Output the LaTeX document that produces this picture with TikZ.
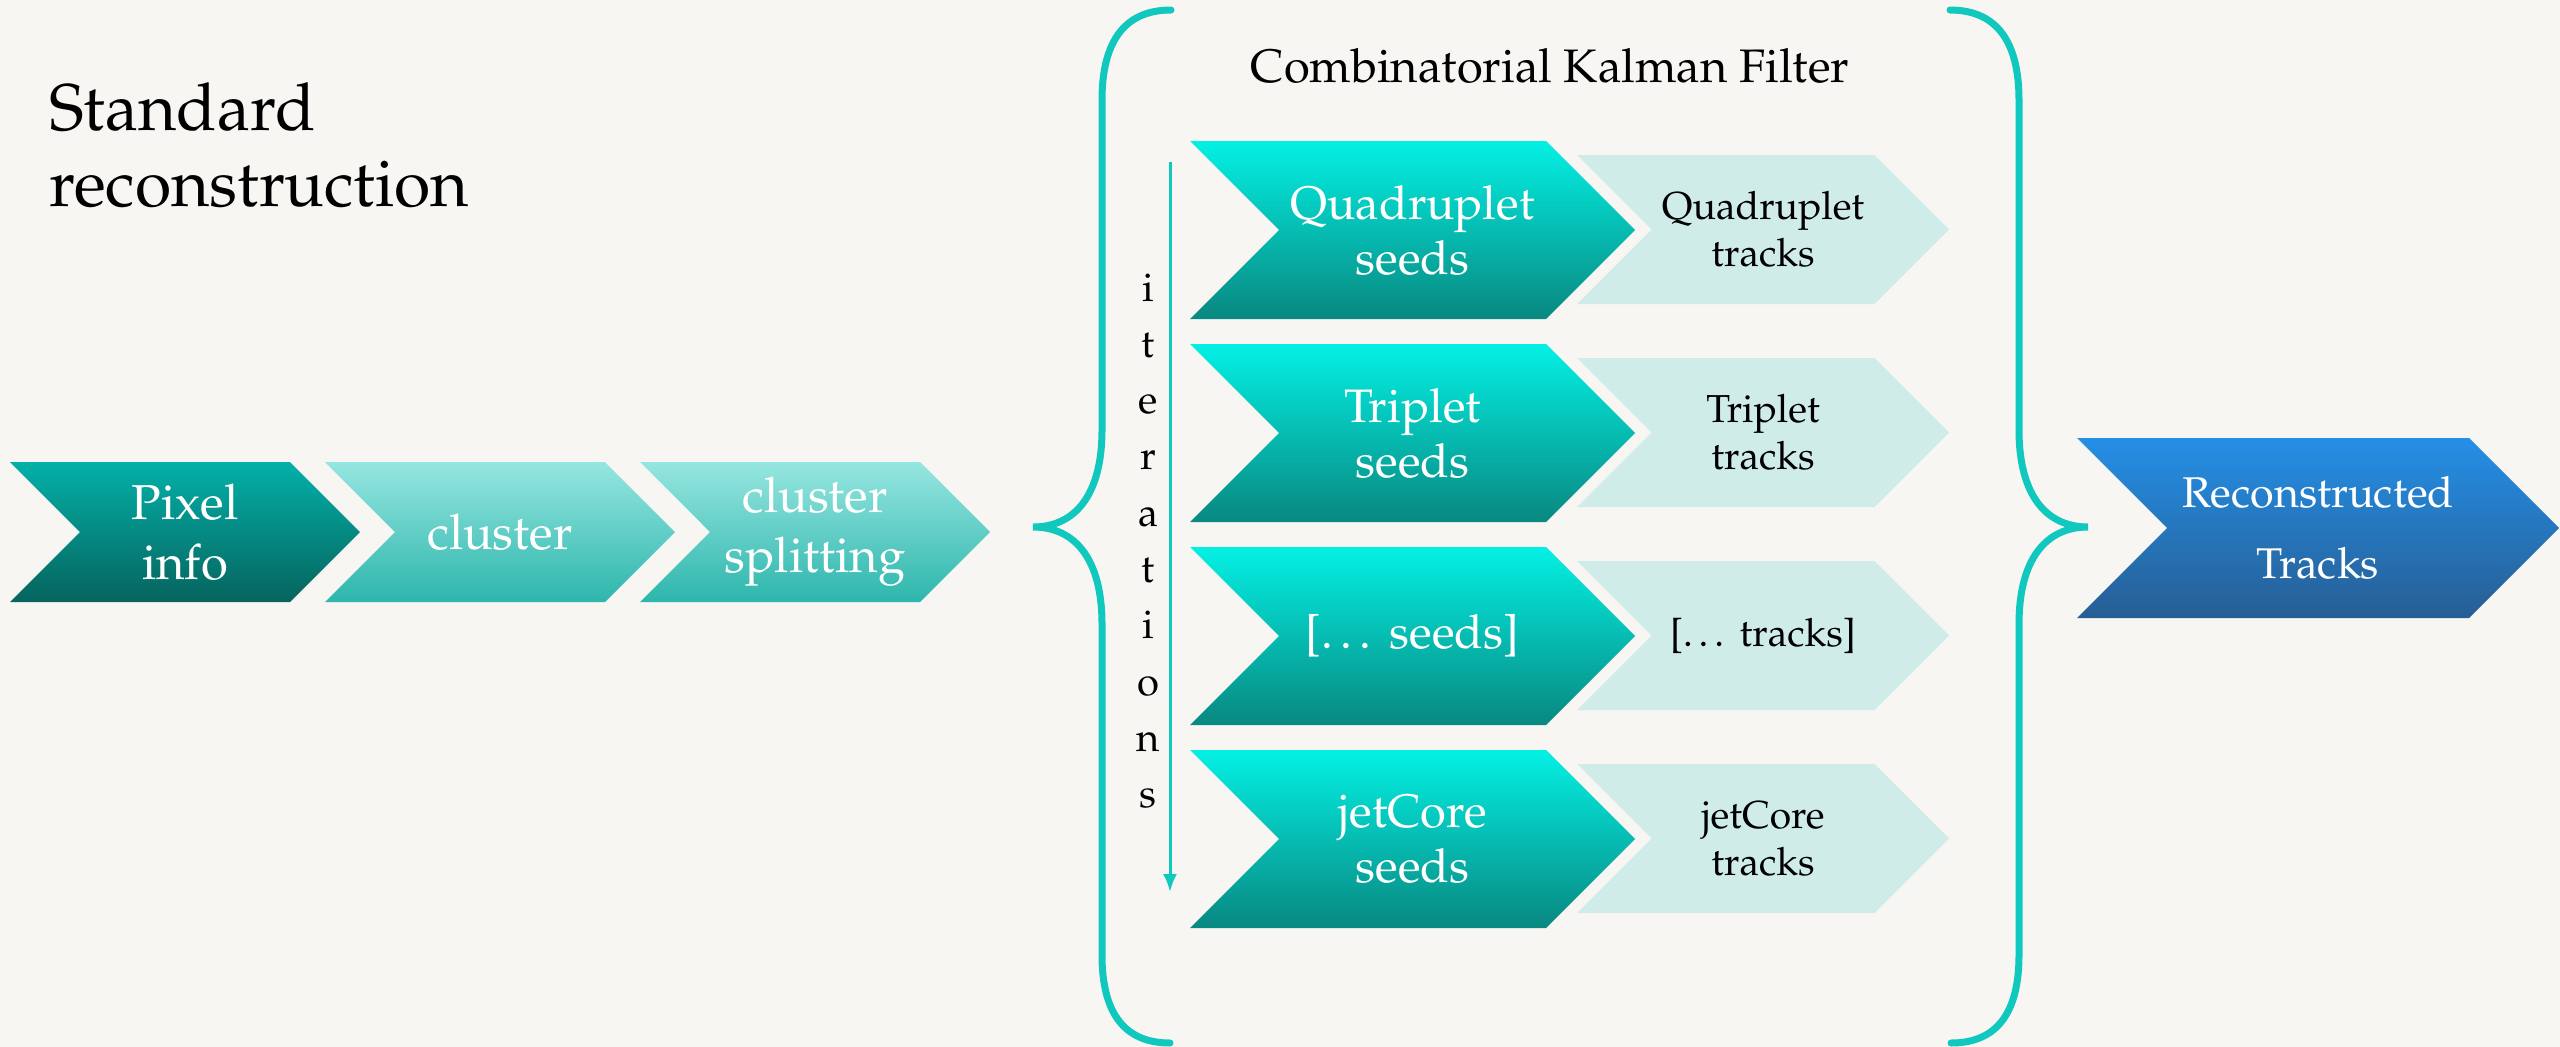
\documentclass[tikz,border=0pt]{standalone}
\usepackage[T1]{fontenc}
\usepackage{mathpazo}
\usetikzlibrary{arrows.meta}

\definecolor{paper}{RGB}{248,246,243}
\definecolor{kfcyan}{RGB}{17,200,191}
\definecolor{seedtop}{RGB}{4,240,228}
\definecolor{seedmid}{RGB}{16,178,170}
\definecolor{seedbot}{RGB}{8,136,128}
\definecolor{pixtop}{RGB}{3,176,168}
\definecolor{pixbot}{RGB}{6,100,94}
\definecolor{clutop}{RGB}{150,230,224}
\definecolor{clubot}{RGB}{45,182,172}
\definecolor{trackfill}{RGB}{208,236,233}
\definecolor{recotop}{RGB}{37,143,230}
\definecolor{recobot}{RGB}{38,94,148}

\tikzset{
  pixbox/.style={top color=pixtop, bottom color=pixbot},
  clubox/.style={top color=clutop, bottom color=clubot},
  seedbox/.style={top color=seedtop, middle color=seedmid, bottom color=seedbot},
  trackbox/.style={fill=trackfill},
  recobox/.style={top color=recotop, bottom color=recobot},
  whitetext/.style={text=white, align=center, inner sep=0pt},
  blacktext/.style={text=black, align=center, inner sep=0pt},
  kfbrace/.style={draw=kfcyan, line width=7pt, line cap=round}
}

% chevron: name, left x, top y, width (left to tip), height, style
\newcommand{\chevron}[6]{%
  \path[#6] (#2,#3) -- ++(#4-#5/2,0) -- ++(#5/2,#5/2) -- ++(-#5/2,#5/2)
    -- ++(-#4+#5/2,0) -- ++(#5/2,-#5/2) -- cycle;
  \coordinate (#1) at (#2+#4/2,#3+#5/2);}

\newcommand{\bracepath}{(1171,10) .. controls (1122,10) and (1102,45) .. (1102,100)
  -- (1102,430) .. controls (1102,495) and (1075,527) .. (1033,527)
  .. controls (1075,527) and (1102,559) .. (1102,624)
  -- (1102,955) .. controls (1102,1010) and (1122,1043) .. (1170,1043)}

\begin{document}
\begin{tikzpicture}[x=1pt,y=-1pt]
  \fill[paper] (0,0) rectangle (2560,1047);
  \useasboundingbox (0,0) rectangle (2560,1047);

  \node (title) [anchor=north west, inner sep=0pt, align=left,
    font=\fontsize{66}{76}\selectfont] at (49,83) {Standard\\reconstruction};

  % standard chain
  \chevron{pix}{10}{462}{350}{140}{pixbox}
  \chevron{clu}{325}{462}{350}{140}{clubox}
  \chevron{split}{640}{462}{350}{140}{clubox}
  \begin{scope}[font=\fontsize{49}{60}\selectfont]
    \node (pixtxt) [whitetext] at (pix) {Pixel\\info};
    \node (clutxt) [whitetext] at (clu) {cluster};
    \node (splittxt) [whitetext] at (split) {cluster\\splitting};
  \end{scope}

  % combinatorial kalman filter
  \node (ckf) [anchor=base, inner sep=0pt, font=\fontsize{47}{55}\selectfont]
    at (1550,82) {Combinatorial Kalman Filter};
  \draw[kfbrace] \bracepath;
  \begin{scope}[xshift=3121pt, xscale=-1]
    \draw[kfbrace] \bracepath;
  \end{scope}

  \foreach \nm/\seedtxt/\tracktxt [count=\i from 0] in
      {quad/Quadruplet\\seeds/Quadruplet\\tracks,
       trip/Triplet\\seeds/Triplet\\tracks,
       more/{[\ldots\ seeds]}/{[\ldots\ tracks]},
       jet/jetCore\\seeds/jetCore\\tracks} {
    \chevron{\nm seed}{1190}{141+203*\i}{445}{178}{seedbox}
    \chevron{\nm track}{1577}{155+203*\i}{372}{149}{trackbox}
    \node (\nm seedtxt) [whitetext, font=\fontsize{47}{55}\selectfont]
      at (\nm seed) {\seedtxt};
    \node (\nm tracktxt) [blacktext, font=\fontsize{39}{47}\selectfont]
      at (\nm track) {\tracktxt};
  }

  % iterations
  \foreach \ch [count=\i from 0] in {i,t,e,r,a,t,i,o,n,s}
    \node (iter\i) [anchor=base, inner sep=0pt, font=\fontsize{40}{48}\selectfont]
      at (1148,301+56.3*\i) {\ch};
  \coordinate (itertop) at (1170,162);
  \coordinate (iterbot) at (1170,892);
  \draw[kfcyan, line width=3pt, -{Latex[length=18pt,width=14pt]}] (itertop) -- (iterbot);

  % result
  \chevron{reco}{2077}{438}{482}{180}{recobox}
  \node (recotxt) [whitetext, font=\fontsize{43}{71}\selectfont] at (reco)
    {Reconstructed\\Tracks};
\end{tikzpicture}
\end{document}
